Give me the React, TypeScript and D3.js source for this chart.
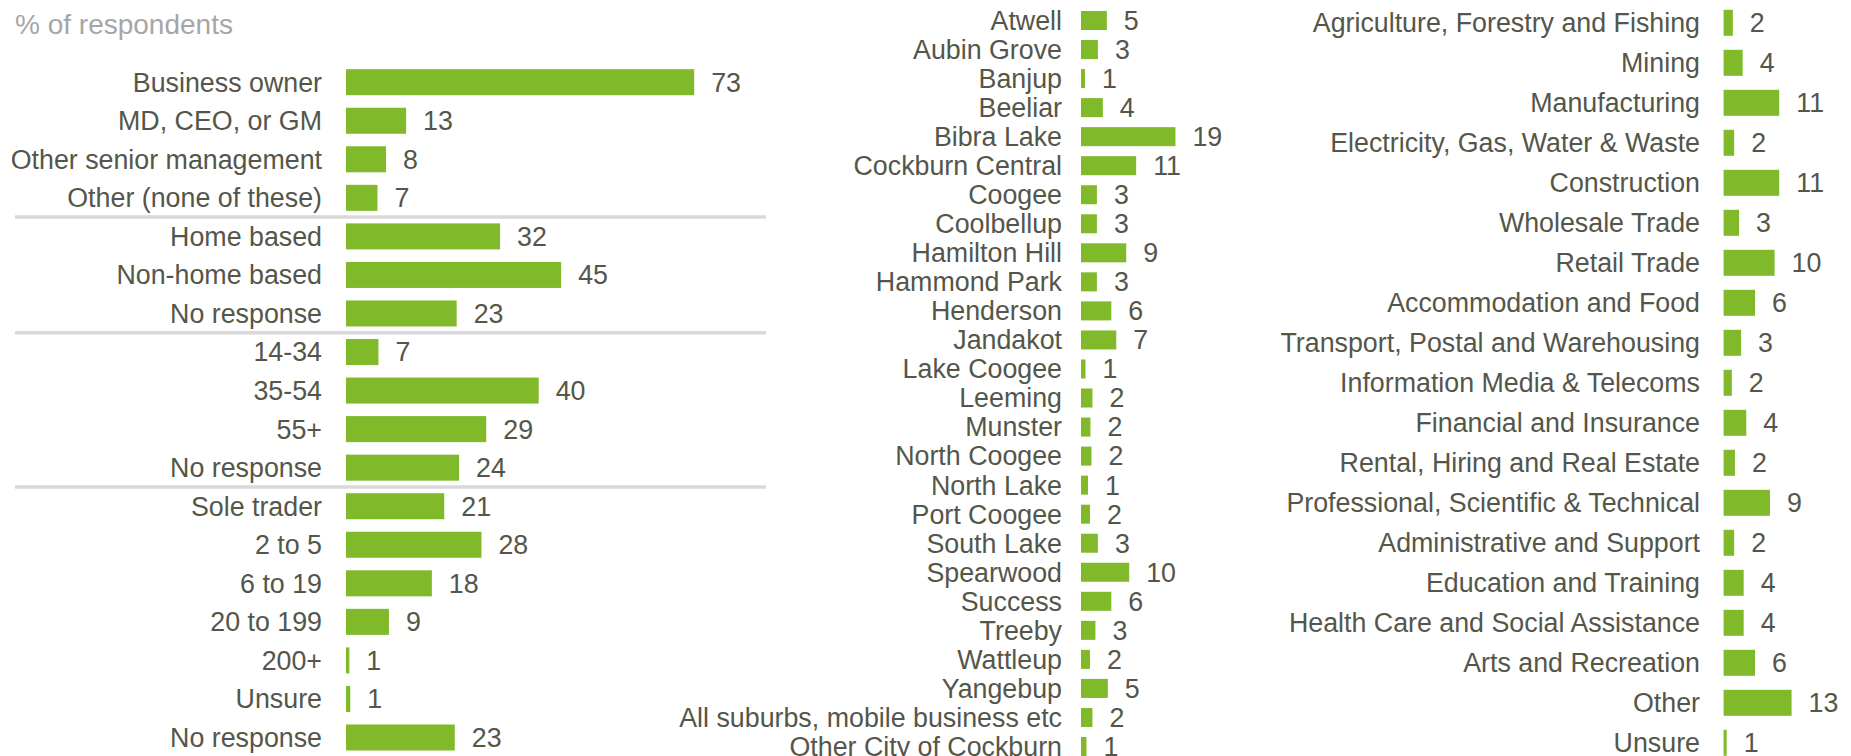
import React from "react";
import * as d3 from "d3";

// ---------- Data ----------
const profileLabels = [
  "Business owner", "MD, CEO, or GM", "Other senior management", "Other (none of these)",
  "Home based", "Non-home based", "No response",
  "14-34", "35-54", "55+", "No response",
  "Sole trader", "2 to 5", "6 to 19", "20 to 199", "200+", "Unsure", "No response",
];
const profileValues = [73, 12.6, 8.4, 6.6, 32.3, 45.1, 23.2, 6.8, 40.4, 29.4, 23.7, 20.6, 28.4, 18, 9, 0.7, 0.9, 22.8];
const profileGroupEnds = [3, 6, 10]; // separator after these indices

const suburbLabels = [
  "Atwell", "Aubin Grove", "Banjup", "Beeliar", "Bibra Lake", "Cockburn Central", "Coogee",
  "Coolbellup", "Hamilton Hill", "Hammond Park", "Henderson", "Jandakot", "Lake Coogee",
  "Leeming", "Munster", "North Coogee", "North Lake", "Port Coogee", "South Lake", "Spearwood",
  "Success", "Treeby", "Wattleup", "Yangebup", "All suburbs, mobile business etc", "Other City of Cockburn",
];
const suburbValues = [5.2, 3.4, 0.8, 4.4, 19, 11.1, 3.2, 3.2, 9.1, 3.2, 6.1, 7.1, 0.9, 2.3, 1.9, 2.1, 1.4, 1.8, 3.4, 9.7, 6.1, 2.9, 1.8, 5.4, 2.3, 1.1];

const industryLabels = [
  "Agriculture, Forestry and Fishing", "Mining", "Manufacturing", "Electricity, Gas, Water & Waste",
  "Construction", "Wholesale Trade", "Retail Trade", "Accommodation and Food",
  "Transport, Postal and Warehousing", "Information Media & Telecoms", "Financial and Insurance",
  "Rental, Hiring and Real Estate", "Professional, Scientific & Technical", "Administrative and Support",
  "Education and Training", "Health Care and Social Assistance", "Arts and Recreation", "Other", "Unsure",
];
const industryValues = [1.8, 3.7, 10.8, 2.05, 10.8, 3.0, 9.9, 6.1, 3.4, 1.6, 4.4, 2.2, 9.0, 2.05, 3.9, 3.9, 6.1, 13.2, 0.6];

const titleText = "% of respondents";

// ---------- Styles ----------
const W = 1851;
const H = 756;
const FONT = "'Liberation Sans', Arial, Helvetica, sans-serif";
const TEXT = "#54564a";
const BAR = "#80b929";
const FS = 26.8;

type PanelProps = {
  labels: string[];
  values: number[];
  labelRight: number;
  barLeft: number;
  pxPerUnit: number;
  firstCenter: number;
  lastCenter: number;
  barRatio: number;
};

function Panel({ labels, values, labelRight, barLeft, pxPerUnit, firstCenter, lastCenter, barRatio }: PanelProps) {
  const idx = labels.map((_, i) => String(i));
  const y = d3.scalePoint<string>().domain(idx).range([firstCenter, lastCenter]);
  const x = d3.scaleLinear().domain([0, 1]).range([barLeft, barLeft + pxPerUnit]);
  const bh = y.step() * barRatio;
  const fmt = d3.format(".0f");
  return (
    <g>
      {labels.map((lab, i) => {
        const cy = y(String(i)) as number;
        const v = values[i];
        return (
          <g key={i}>
            <text x={labelRight} y={cy} dy="0.35em" textAnchor="end" fontSize={FS} fill={TEXT} fontFamily={FONT}>
              {lab}
            </text>
            <rect x={x(0)} y={cy - bh / 2} width={x(v) - x(0)} height={bh} fill={BAR} />
            <text x={x(v) + 17} y={cy} dy="0.35em" textAnchor="start" fontSize={FS} fill={TEXT} fontFamily={FONT}>
              {fmt(v)}
            </text>
          </g>
        );
      })}
    </g>
  );
}

export default function App() {
  const p1Idx = profileLabels.map((_, i) => String(i));
  const y1 = d3.scalePoint<string>().domain(p1Idx).range([82.2, 737.5]);
  return (
    <svg width={W} height={H} style={{ position: "absolute", left: 0, top: 0, background: "#fff" }}>
      <rect x={0} y={0} width={W} height={H} fill="#ffffff" />
      <text x={15} y={34} fontSize={28} fill="#a6a6a6" fontFamily={FONT}>
        {titleText}
      </text>
      {profileGroupEnds.map((e) => {
        const yy = ((y1(String(e)) as number) + (y1(String(e + 1)) as number)) / 2;
        return <line key={e} x1={15} x2={766} y1={yy} y2={yy} stroke="#d9d9d9" strokeWidth={3.5} />;
      })}
      <Panel labels={profileLabels} values={profileValues} labelRight={322} barLeft={346} pxPerUnit={4.77}
        firstCenter={82.2} lastCenter={737.5} barRatio={0.675} />
      <Panel labels={suburbLabels} values={suburbValues} labelRight={1062} barLeft={1081} pxPerUnit={4.97}
        firstCenter={20.5} lastCenter={746.5} barRatio={0.655} />
      <Panel labels={industryLabels} values={industryValues} labelRight={1700} barLeft={1723.6} pxPerUnit={5.15}
        firstCenter={22.8} lastCenter={742.8} barRatio={0.65} />
    </svg>
  );
}
